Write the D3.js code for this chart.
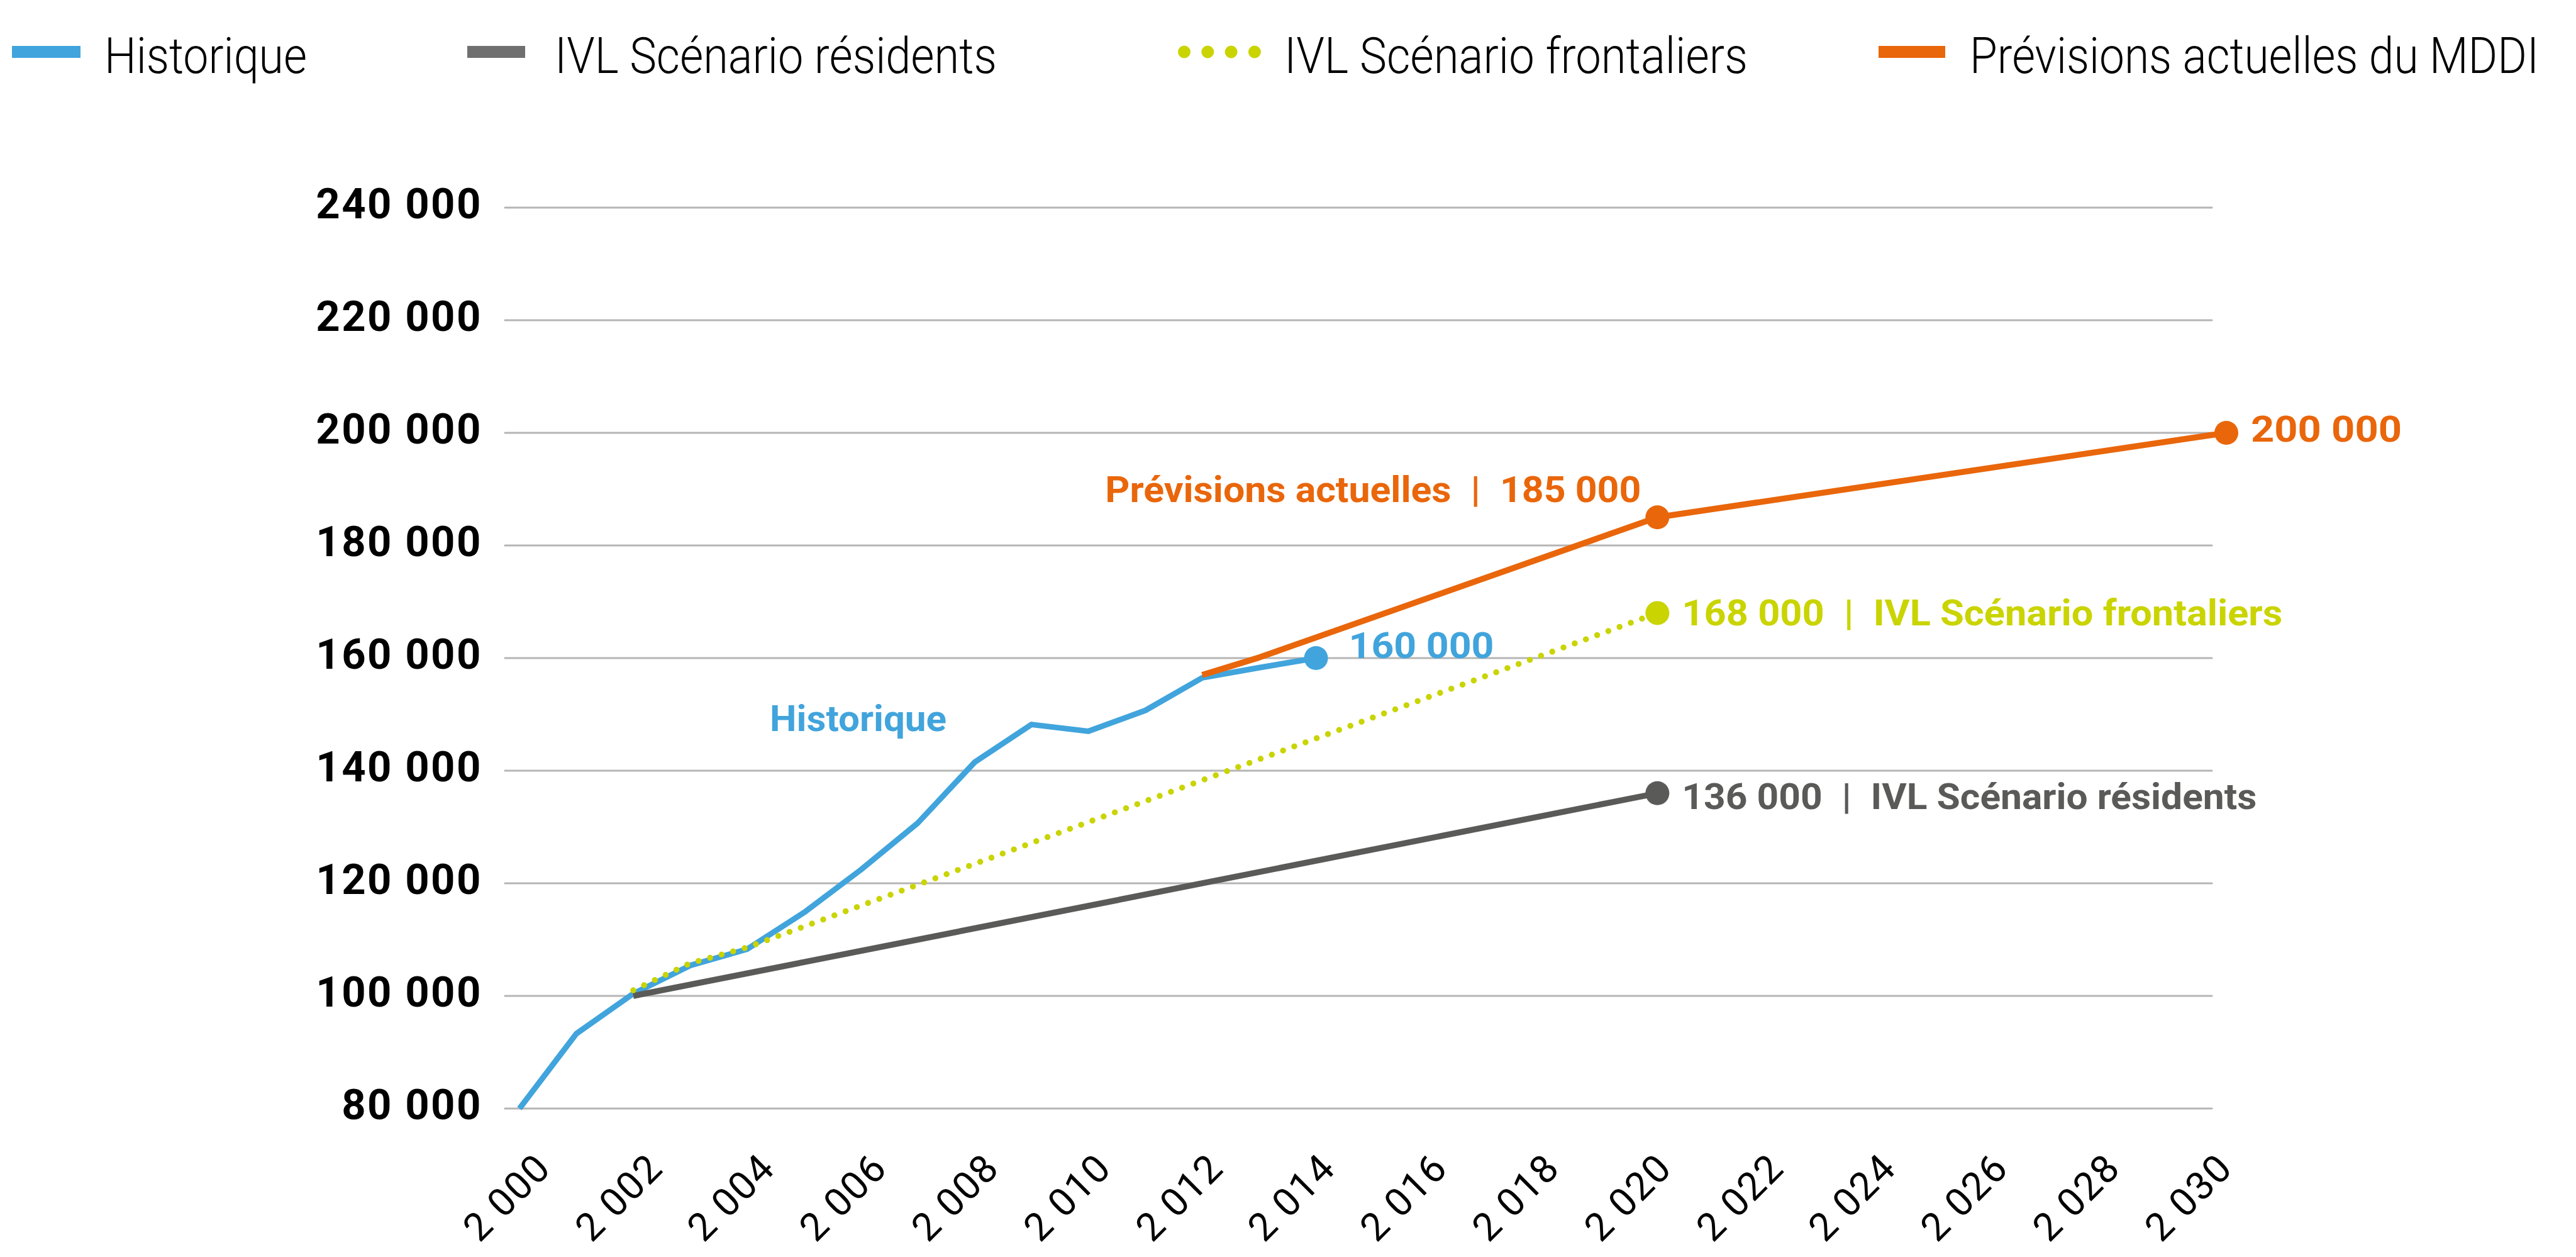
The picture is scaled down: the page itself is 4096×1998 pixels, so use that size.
<!DOCTYPE html>
<html>
<head>
<meta charset="utf-8">
<script src="https://cdn.jsdelivr.net/npm/d3@7"></script>
<style>
  html, body { margin: 0; padding: 0; background: #fff; overflow: hidden; }
</style>
</head>
<body>
<div id="chart"></div>
<script>
// ---- data ----
const tickYears = [2000, 2002, 2004, 2006, 2008, 2010, 2012, 2014, 2016, 2018, 2020, 2022, 2024, 2026, 2028, 2030];
const yTicks = [80000, 100000, 120000, 140000, 160000, 180000, 200000, 220000, 240000];

const histYears = [2000, 2001, 2002, 2003, 2004, 2005, 2006, 2007, 2008, 2009, 2010, 2011, 2012, 2013, 2014];
const histValues = [80000, 93300, 100400, 105400, 108300, 114800, 122400, 130700, 141500, 148200, 147000, 150700, 156500, 158300, 160000];

const residentsYears = [2002, 2020];
const residentsValues = [100000, 136000];

const frontaliersYears = [2002, 2003, 2004, 2020];
const frontaliersValues = [101000, 105800, 108600, 168000];

const mddiYears = [2012, 2013, 2020, 2030];
const mddiValues = [157000, 160100, 185000, 200000];

const legendLabels = ["Historique", "IVL Scénario résidents", "IVL Scénario frontaliers", "Prévisions actuelles du MDDI"];

// ---- setup ----
const width = 4096, height = 1998;
const colors = { hist: "#41a4dc", res: "#5a5a59", front: "#c9d400", mddi: "#e9660b", grid: "#b5b5b5" };
const fr = d3.formatLocale({ decimal: ",", thousands: "\u00a0", grouping: [3], currency: ["", " €"] });
const fmt = fr.format(",d");
const sep = "\u2002|\u2002";

const svg = d3.select("#chart")
    .append("svg")
    .attr("width", width)
    .attr("height", height)
    .style("font-family", "Roboto, 'Open Sans', sans-serif");

const plotLeft = 803, plotRight = 3517;
const x = d3.scaleLinear().domain([2000, 2030]).range([826, 3540]);
const xLabel = d3.scaleLinear().domain([2000, 2030]).range([879, 3553]);
const y = d3.scaleLinear().domain([80000, 240000]).range([1762, 330]);

// gridlines
svg.append("g")
    .selectAll("line")
    .data(yTicks)
    .join("line")
    .attr("x1", plotLeft)
    .attr("x2", plotRight)
    .attr("y1", d => y(d))
    .attr("y2", d => y(d))
    .attr("stroke", colors.grid)
    .attr("stroke-width", 3.2)
    .attr("stroke-linecap", "round");

// y labels
svg.append("g")
    .selectAll("text")
    .data(yTicks)
    .join("text")
    .attr("x", 767)
    .attr("y", d => y(d) + 17)
    .attr("text-anchor", "end")
    .attr("font-size", 67)
    .attr("font-weight", 700)
    .attr("letter-spacing", 2.5)
    .attr("fill", "#000")
    .text(d => fmt(d));

// x labels (rotated)
svg.append("g")
    .selectAll("text")
    .data(tickYears)
    .join("text")
    .attr("transform", d => `translate(${xLabel(d)},1860) rotate(-45)`)
    .attr("text-anchor", "end")
    .attr("font-size", 62)
    .attr("letter-spacing", 2)
    .attr("fill", "#000")
    .text(d => fmt(d));

// ---- lines ----
const line = d3.line().x(d => x(d[0])).y(d => y(d[1]));
const zip = (a, b) => a.map((v, i) => [v, b[i]]);

svg.append("path")
    .datum(zip(histYears, histValues))
    .attr("d", line)
    .attr("fill", "none")
    .attr("stroke", colors.hist)
    .attr("stroke-width", 9)
    .attr("stroke-linejoin", "round");

svg.append("path")
    .datum(zip(residentsYears, residentsValues))
    .attr("d", line)
    .attr("fill", "none")
    .attr("stroke", colors.res)
    .attr("stroke-width", 9.5);

svg.append("path")
    .datum(zip(mddiYears, mddiValues))
    .attr("d", line)
    .attr("fill", "none")
    .attr("stroke", colors.mddi)
    .attr("stroke-width", 9.5)
    .attr("stroke-linejoin", "round");

svg.append("path")
    .datum(zip(frontaliersYears, frontaliersValues))
    .attr("d", line)
    .attr("fill", "none")
    .attr("stroke", colors.front)
    .attr("stroke-width", 9.5)
    .attr("stroke-linecap", "round")
    .attr("stroke-dasharray", "0 19");

// end-point dots
const dots = [
    [histYears[histYears.length - 1], histValues[histValues.length - 1], colors.hist],
    [residentsYears[1], residentsValues[1], colors.res],
    [frontaliersYears[3], frontaliersValues[3], colors.front],
    [mddiYears[2], mddiValues[2], colors.mddi],
    [mddiYears[3], mddiValues[3], colors.mddi]
];
svg.append("g")
    .selectAll("circle")
    .data(dots)
    .join("circle")
    .attr("cx", d => x(d[0]))
    .attr("cy", d => y(d[1]))
    .attr("r", 19)
    .attr("fill", d => d[2]);

// ---- annotations ----
const annotations = [
    { text: "Historique", at: [2004.4, 147000], dx: 0, dy: 0, len: 281, anchor: "start", color: colors.hist },
    { text: `Prévisions actuelles${sep}${fmt(mddiValues[2])}`, at: [2020, mddiValues[2]], dx: -26, dy: -24, len: 852, anchor: "end", color: colors.mddi },
    { text: fmt(histValues[histValues.length - 1]), at: [2014, histValues[histValues.length - 1]], dx: 52, dy: 0, len: 231, anchor: "start", color: colors.hist },
    { text: fmt(mddiValues[3]), at: [2030, mddiValues[3]], dx: 39, dy: 14, len: 240, anchor: "start", color: colors.mddi },
    { text: `${fmt(frontaliersValues[3])}${sep}IVL Scénario frontaliers`, at: [2020, frontaliersValues[3]], dx: 39, dy: 20, len: 955, anchor: "start", color: colors.front },
    { text: `${fmt(residentsValues[1])}${sep}IVL Scénario résidents`, at: [2020, residentsValues[1]], dx: 39, dy: 25, len: 914, anchor: "start", color: colors.res }
];
svg.append("g")
    .selectAll("text")
    .data(annotations)
    .join("text")
    .attr("x", d => x(d.at[0]) + d.dx)
    .attr("y", d => y(d.at[1]) + d.dy)
    .attr("text-anchor", d => d.anchor)
    .attr("textLength", d => d.len)
    .attr("lengthAdjust", "spacingAndGlyphs")
    .attr("font-size", 58)
    .attr("font-weight", 700)
    .attr("fill", d => d.color)
    .text(d => d.text);

// ---- legend ----
const legendItems = [
    { label: legendLabels[0], color: colors.hist, sx: 19, sw: 109, tx: 166, tw: 322 },
    { label: legendLabels[1], color: "#6f6f6f", sx: 743, sw: 92, tx: 882, tw: 703 },
    { label: legendLabels[2], color: colors.front, sx: 1883, sw: 112, tx: 2042, tw: 737, dotted: true },
    { label: legendLabels[3], color: colors.mddi, sx: 2987, sw: 106, tx: 3132, tw: 905 }
];
const legend = svg.append("g");
legendItems.forEach(d => {
    if (d.dotted) {
        legend.append("line")
            .attr("x1", d.sx).attr("x2", d.sx + d.sw)
            .attr("y1", 82.5).attr("y2", 82.5)
            .attr("stroke", d.color)
            .attr("stroke-width", 20)
            .attr("stroke-linecap", "round")
            .attr("stroke-dasharray", "0 37.3");
    } else {
        legend.append("rect")
            .attr("x", d.sx).attr("y", 73)
            .attr("width", d.sw).attr("height", 19)
            .attr("fill", d.color);
    }
    // condensed look: squeeze the text horizontally to the reference width
    const t = legend.append("text")
        .attr("font-size", 80)
        .attr("font-weight", 300)
        .attr("fill", "#000")
        .text(d.label);
    const natural = t.node().getComputedTextLength();
    t.attr("transform", `translate(${d.tx},116) scale(${d.tw / natural},1)`);
});
</script>
</body>
</html>
